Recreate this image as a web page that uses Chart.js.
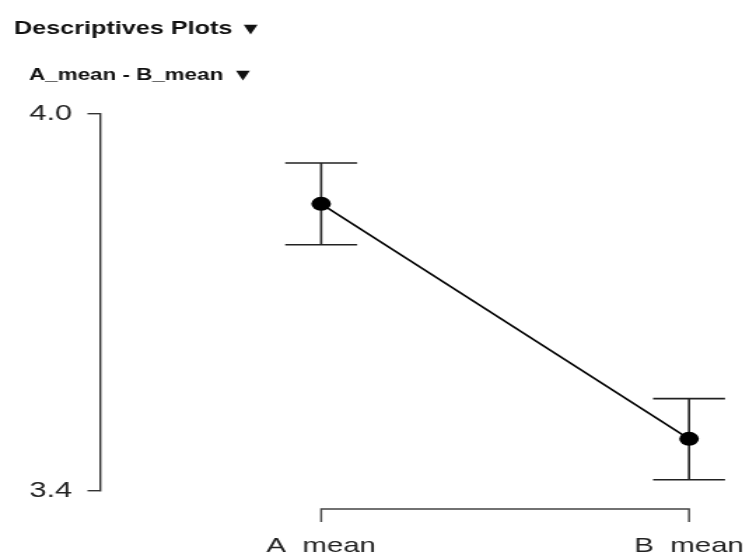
<!DOCTYPE html>
<html>
<head>
<meta charset="utf-8">
<script src="https://cdn.jsdelivr.net/npm/chart.js@4.4.0/dist/chart.umd.min.js"></script>
<style>
  html, body { margin: 0; padding: 0; background: #fff; overflow: hidden; }
  /* the plot is drawn narrow and stretched sideways */
  #wrap { width: 535px; height: 552px; transform: scaleX(1.4); transform-origin: 0 0; }
</style>
</head>
<body>
<div id="wrap"><canvas id="plot" width="535" height="552"></canvas></div>
<script>
const plotTitle = 'Descriptives Plots';
const pairTitle = 'A_mean - B_mean';
const categories = ['A_mean', 'B_mean'];
const means = [3.857, 3.483];
const ciLower = [3.792, 3.418];
const ciUpper = [3.922, 3.547];
const yTicks = [3.4, 4.0];

const FONT = '"Liberation Sans", Arial, sans-serif';

// headings above the plot and the bracket-style x axis line
const extras = {
  id: 'extras',
  afterDraw(chart) {
    const ctx = chart.ctx;
    ctx.save();
    ctx.fillStyle = '#111';
    ctx.textBaseline = 'alphabetic';

    ctx.font = 'bold 18px ' + FONT;
    ctx.fillText(plotTitle, 10, 34);
    let w = ctx.measureText(plotTitle).width;
    ctx.font = '13px "DejaVu Sans"';
    ctx.fillText('\u25BC', 10 + w + 8, 33);

    ctx.font = 'bold 16px ' + FONT;
    ctx.fillText(pairTitle, 20.7, 80);
    w = ctx.measureText(pairTitle).width;
    ctx.font = '13px "DejaVu Sans"';
    ctx.fillText('\u25BC', 20.7 + w + 9, 79);

    const xs = chart.scales.x;
    const x0 = xs.getPixelForValue(0);
    const x1 = xs.getPixelForValue(categories.length - 1);
    const y = chart.chartArea.bottom + 18;
    ctx.strokeStyle = '#444';
    ctx.lineWidth = 1.4;
    ctx.beginPath();
    ctx.moveTo(x0, y + 13);
    ctx.lineTo(x0, y);
    ctx.lineTo(x1, y);
    ctx.lineTo(x1, y + 13);
    ctx.stroke();
    ctx.restore();
  }
};

const meanSeries = {
  data: categories.map((c, i) => ({ x: i, y: means[i] })),
  borderColor: '#000',
  borderWidth: 1.6,
  pointRadius: 7,
  pointBackgroundColor: '#000',
  pointBorderColor: '#000',
  pointBorderWidth: 0
};

const errorBars = categories.map((c, i) => ({
  data: [{ x: i, y: ciLower[i] }, { x: i, y: ciUpper[i] }],
  borderColor: '#222',
  borderWidth: 1.6,
  pointStyle: 'line',
  pointRadius: 25.7,
  pointBorderColor: '#222',
  pointBorderWidth: 1.6
}));

new Chart(document.getElementById('plot'), {
  type: 'scatter',
  data: { datasets: [meanSeries, ...errorBars] },
  options: {
    responsive: false,
    animation: false,
    events: [],
    showLine: true,
    // wide cap markers would otherwise pad the right edge
    layout: { autoPadding: false, padding: { top: 114, left: 0, right: 0, bottom: 0 } },
    plugins: { legend: { display: false }, tooltip: { enabled: false } },
    scales: {
      x: {
        type: 'linear',
        min: -0.599,
        max: 1.163,
        afterBuildTicks: s => { s.ticks = categories.map((c, i) => ({ value: i })); },
        afterFit: s => { s.height = 61; s.paddingLeft = 0; s.paddingRight = 0; },
        grid: { display: true, drawOnChartArea: false, drawTicks: true, tickLength: 43, color: 'rgba(0,0,0,0)' },
        border: { display: false },
        ticks: {
          padding: 0,
          autoSkip: false,
          maxRotation: 0,
          color: '#222',
          font: { size: 21, family: FONT },
          callback: v => categories[v]
        }
      },
      y: {
        min: 3.4,
        max: 4.0,
        afterBuildTicks: s => { s.ticks = yTicks.map(v => ({ value: v })); },
        afterFit: s => { s.width = 72; },
        grid: { drawOnChartArea: false, drawTicks: true, tickLength: 9.5, color: '#333', lineWidth: 1.4 },
        border: { display: true, color: '#333', width: 1.4 },
        ticks: {
          padding: 11,
          color: '#222',
          font: { size: 22, family: FONT },
          callback: v => v.toFixed(1)
        }
      }
    }
  },
  plugins: [extras]
});
</script>
</body>
</html>
